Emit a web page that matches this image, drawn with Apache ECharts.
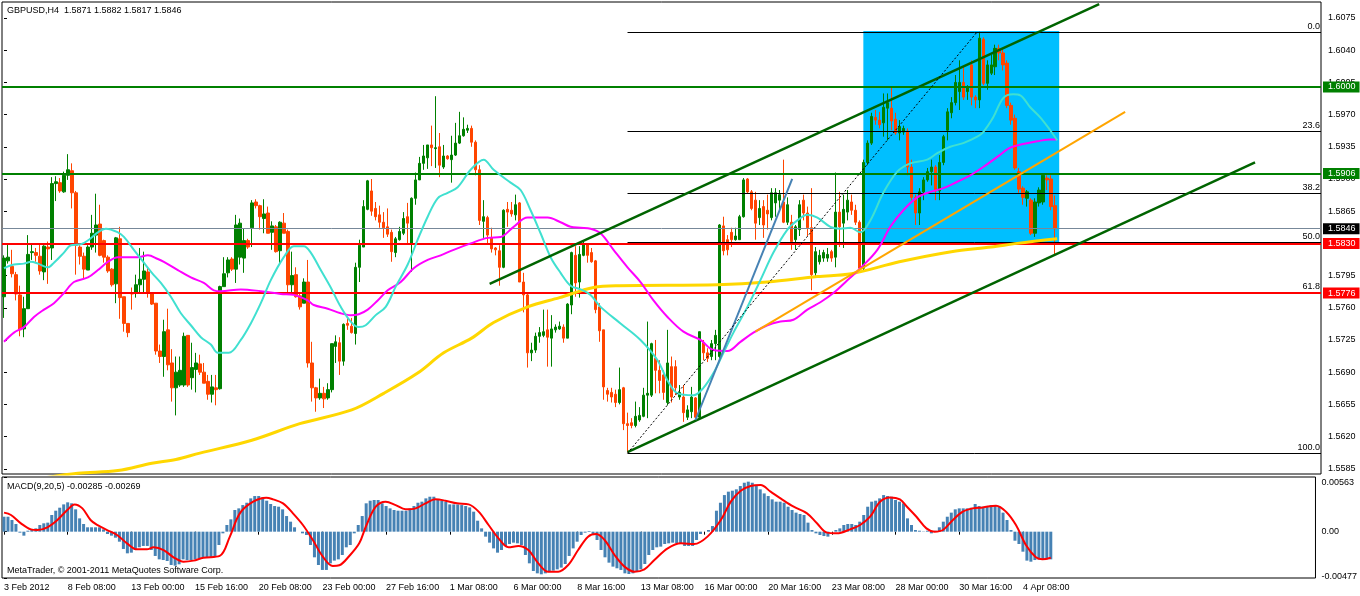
<!DOCTYPE html>
<html>
<head>
<meta charset="utf-8">
<script src="https://cdn.jsdelivr.net/npm/echarts/dist/echarts.min.js"></script>
<style>
html,body{margin:0;padding:0;background:#fff;}
#chart{width:1360px;height:596px;}
</style>
</head>
<body>
<div id="chart"></div>
<script>
// ---------------- DATA ----------------
const titleText = 'GBPUSD,H4  1.5871 1.5882 1.5817 1.5846';
const macdTitle = 'MACD(9,20,5) -0.00285 -0.00269';
const copyright = 'MetaTrader, \u00A9 2001-2011 MetaQuotes Software Corp.';

const slotCount = 330; // bars + right shift space
const dateLabels = ['3 Feb 2012','8 Feb 08:00','13 Feb 00:00','15 Feb 16:00','20 Feb 08:00','23 Feb 00:00','27 Feb 16:00','1 Mar 08:00','6 Mar 00:00','8 Mar 16:00','13 Mar 08:00','16 Mar 00:00','20 Mar 16:00','23 Mar 08:00','28 Mar 00:00','30 Mar 16:00','4 Apr 08:00'];
const dateLabelStep = 16;

const priceTicks = [1.5585,1.5620,1.5655,1.5690,1.5725,1.5760,1.5795,1.5830,1.5865,1.5900,1.5935,1.5970,1.6005,1.6040,1.6075];
const priceMin = 1.55793, priceMax = 1.60924;
const macdTicks = [0.00563, 0, -0.00477];
const macdMin = -0.00477, macdMax = 0.00563;

// [open, close, low, high] per H4 bar
const ohlc = [
[1.5772,1.5814,1.5749,1.5817],[1.5811,1.5815,1.5808,1.5829],[1.5805,1.5797,1.5793,1.5823],[1.5796,1.5775,1.5768,1.5799],
[1.5774,1.5736,1.5729,1.5784],[1.5737,1.5759,1.5728,1.5772],[1.5759,1.5818,1.5759,1.5839],[1.5820,1.5821,1.5812,1.5830],
[1.5820,1.5817,1.5810,1.5825],[1.5816,1.5800,1.5796,1.5829],[1.5799,1.5827,1.5790,1.5828],[1.5826,1.5824,1.5786,1.5832],
[1.5825,1.5895,1.5812,1.5902],[1.5895,1.5897,1.5876,1.5903],[1.5896,1.5887,1.5885,1.5901],[1.5886,1.5904,1.5885,1.5908],
[1.5904,1.5910,1.5899,1.5927],[1.5909,1.5885,1.5868,1.5917],[1.5885,1.5828,1.5796,1.5887],[1.5826,1.5816,1.5807,1.5828],
[1.5816,1.5802,1.5791,1.5820],[1.5801,1.5826,1.5801,1.5828],[1.5826,1.5841,1.5823,1.5861],[1.5839,1.5850,1.5820,1.5884],
[1.5851,1.5817,1.5816,1.5872],[1.5833,1.5815,1.5809,1.5834],[1.5815,1.5800,1.5798,1.5817],[1.5802,1.5785,1.5783,1.5803],
[1.5786,1.5836,1.5765,1.5837],[1.5835,1.5771,1.5748,1.5848],[1.5772,1.5743,1.5734,1.5772],[1.5743,1.5733,1.5728,1.5743],
[1.5776,1.5775,1.5758,1.5782],[1.5776,1.5785,1.5771,1.5796],[1.5785,1.5791,1.5777,1.5825],[1.5791,1.5800,1.5776,1.5821],
[1.5799,1.5776,1.5771,1.5804],[1.5776,1.5764,1.5763,1.5776],[1.5765,1.5713,1.5709,1.5765],[1.5713,1.5707,1.5700,1.5720],
[1.5707,1.5734,1.5685,1.5747],[1.5736,1.5698,1.5692,1.5759],[1.5700,1.5673,1.5658,1.5715],[1.5673,1.5690,1.5643,1.5707],
[1.5676,1.5692,1.5674,1.5707],[1.5676,1.5729,1.5674,1.5733],[1.5730,1.5676,1.5674,1.5730],[1.5684,1.5695,1.5671,1.5722],
[1.5693,1.5700,1.5668,1.5711],[1.5699,1.5690,1.5687,1.5709],[1.5690,1.5678,1.5678,1.5700],[1.5680,1.5666,1.5660,1.5687],
[1.5666,1.5674,1.5657,1.5687],[1.5673,1.5671,1.5654,1.5687],[1.5672,1.5783,1.5671,1.5784],[1.5783,1.5797,1.5783,1.5815],
[1.5798,1.5812,1.5793,1.5815],[1.5813,1.5802,1.5800,1.5815],[1.5802,1.5850,1.5787,1.5861],[1.5815,1.5852,1.5807,1.5857],
[1.5814,1.5833,1.5798,1.5846],[1.5833,1.5826,1.5824,1.5835],[1.5847,1.5874,1.5826,1.5877],[1.5875,1.5871,1.5868,1.5878],
[1.5871,1.5859,1.5845,1.5872],[1.5857,1.5862,1.5841,1.5878],[1.5863,1.5841,1.5841,1.5870],[1.5842,1.5849,1.5823,1.5854],
[1.5848,1.5821,1.5820,1.5850],[1.5822,1.5853,1.5807,1.5854],[1.5852,1.5841,1.5841,1.5863],[1.5843,1.5785,1.5776,1.5845],
[1.5785,1.5795,1.5775,1.5821],[1.5796,1.5772,1.5771,1.5804],[1.5773,1.5761,1.5758,1.5776],[1.5765,1.5788,1.5765,1.5792],
[1.5788,1.5700,1.5695,1.5812],[1.5700,1.5673,1.5658,1.5723],[1.5673,1.5662,1.5647,1.5674],[1.5662,1.5667,1.5660,1.5683],
[1.5667,1.5661,1.5651,1.5674],[1.5662,1.5671,1.5660,1.5678],[1.5671,1.5721,1.5668,1.5721],[1.5718,1.5723,1.5700,1.5730],
[1.5722,1.5702,1.5687,1.5728],[1.5702,1.5742,1.5697,1.5743],[1.5743,1.5741,1.5736,1.5750],[1.5740,1.5733,1.5732,1.5749],
[1.5732,1.5804,1.5720,1.5809],[1.5804,1.5828,1.5788,1.5834],[1.5826,1.5870,1.5826,1.5877],[1.5867,1.5898,1.5866,1.5899],
[1.5887,1.5865,1.5860,1.5900],[1.5868,1.5859,1.5855,1.5875],[1.5861,1.5853,1.5847,1.5871],[1.5853,1.5847,1.5836,1.5864],
[1.5848,1.5840,1.5837,1.5868],[1.5842,1.5821,1.5810,1.5845],[1.5820,1.5835,1.5815,1.5837],[1.5834,1.5843,1.5833,1.5848],
[1.5841,1.5857,1.5839,1.5864],[1.5859,1.5852,1.5830,1.5874],[1.5830,1.5879,1.5799,1.5880],[1.5879,1.5899,1.5872,1.5907],
[1.5899,1.5917,1.5899,1.5924],[1.5917,1.5925,1.5910,1.5937],[1.5923,1.5937,1.5911,1.5937],[1.5937,1.5934,1.5914,1.5958],
[1.5933,1.5934,1.5912,1.5990],[1.5935,1.5915,1.5902,1.5950],[1.5913,1.5925,1.5911,1.5937],[1.5925,1.5922,1.5921,1.5926],
[1.5921,1.5926,1.5896,1.5947],[1.5926,1.5939,1.5925,1.5961],[1.5939,1.5947,1.5938,1.5973],[1.5947,1.5954,1.5946,1.5967],
[1.5953,1.5955,1.5950,1.5959],[1.5955,1.5940,1.5935,1.5958],[1.5940,1.5910,1.5904,1.5942],[1.5910,1.5855,1.5850,1.5915],
[1.5854,1.5859,1.5836,1.5877],[1.5858,1.5839,1.5830,1.5860],[1.5836,1.5824,1.5820,1.5847],[1.5825,1.5823,1.5817,1.5826],
[1.5822,1.5804,1.5784,1.5828],[1.5804,1.5866,1.5803,1.5867],[1.5867,1.5864,1.5848,1.5875],[1.5866,1.5862,1.5859,1.5875],
[1.5861,1.5872,1.5855,1.5883],[1.5874,1.5788,1.5788,1.5875],[1.5788,1.5774,1.5755,1.5798],[1.5774,1.5711,1.5695,1.5776],
[1.5711,1.5714,1.5702,1.5722],[1.5714,1.5729,1.5711,1.5733],[1.5729,1.5733,1.5722,1.5739],[1.5730,1.5734,1.5728,1.5758],
[1.5736,1.5728,1.5696,1.5758],[1.5727,1.5737,1.5696,1.5752],[1.5736,1.5739,1.5733,1.5742],[1.5737,1.5740,1.5736,1.5745],
[1.5739,1.5727,1.5722,1.5742],[1.5727,1.5764,1.5727,1.5765],[1.5763,1.5820,1.5753,1.5821],[1.5817,1.5787,1.5772,1.5827],
[1.5788,1.5818,1.5771,1.5827],[1.5817,1.5830,1.5816,1.5832],[1.5829,1.5817,1.5809,1.5830],[1.5820,1.5810,1.5809,1.5825],
[1.5811,1.5758,1.5754,1.5812],[1.5761,1.5735,1.5723,1.5765],[1.5736,1.5674,1.5660,1.5736],[1.5670,1.5666,1.5658,1.5673],
[1.5668,1.5663,1.5657,1.5673],[1.5666,1.5657,1.5652,1.5671],[1.5657,1.5671,1.5655,1.5695],[1.5673,1.5634,1.5627,1.5674],
[1.5634,1.5632,1.5603,1.5646],[1.5635,1.5632,1.5629,1.5640],[1.5632,1.5642,1.5630,1.5658],[1.5638,1.5643,1.5636,1.5652],
[1.5642,1.5665,1.5641,1.5673],[1.5665,1.5667,1.5640,1.5745],[1.5665,1.5721,1.5663,1.5722],[1.5705,1.5692,1.5667,1.5725],
[1.5692,1.5681,1.5667,1.5703],[1.5687,1.5668,1.5660,1.5692],[1.5657,1.5700,1.5654,1.5736],[1.5696,1.5663,1.5657,1.5707],
[1.5696,1.5673,1.5665,1.5703],[1.5663,1.5668,1.5660,1.5676],[1.5663,1.5646,1.5636,1.5676],[1.5641,1.5649,1.5638,1.5654],
[1.5647,1.5663,1.5640,1.5674],[1.5662,1.5641,1.5640,1.5663],[1.5641,1.5734,1.5640,1.5734],[1.5722,1.5711,1.5703,1.5725],
[1.5711,1.5705,1.5701,1.5716],[1.5707,1.5721,1.5703,1.5725],[1.5721,1.5730,1.5703,1.5736],[1.5707,1.5850,1.5705,1.5851],
[1.5849,1.5822,1.5817,1.5859],[1.5834,1.5823,1.5817,1.5839],[1.5842,1.5834,1.5826,1.5847],[1.5834,1.5838,1.5833,1.5847],
[1.5834,1.5859,1.5834,1.5861],[1.5859,1.5899,1.5858,1.5901],[1.5900,1.5886,1.5884,1.5901],[1.5886,1.5868,1.5866,1.5888],
[1.5877,1.5852,1.5834,1.5886],[1.5858,1.5868,1.5850,1.5877],[1.5870,1.5850,1.5836,1.5877],[1.5866,1.5862,1.5845,1.5883],
[1.5858,1.5885,1.5855,1.5890],[1.5874,1.5885,1.5859,1.5890],[1.5877,1.5883,1.5866,1.5888],[1.5875,1.5853,1.5852,1.5921],
[1.5853,1.5872,1.5850,1.5880],[1.5853,1.5832,1.5823,1.5861],[1.5834,1.5848,1.5823,1.5850],[1.5845,1.5872,1.5838,1.5877],
[1.5877,1.5863,1.5855,1.5883],[1.5863,1.5847,1.5838,1.5870],[1.5847,1.5796,1.5779,1.5890],[1.5798,1.5821,1.5793,1.5826],
[1.5810,1.5817,1.5807,1.5823],[1.5814,1.5820,1.5810,1.5823],[1.5814,1.5818,1.5810,1.5825],[1.5821,1.5814,1.5810,1.5823],
[1.5815,1.5864,1.5804,1.5907],[1.5864,1.5848,1.5826,1.5886],[1.5852,1.5867,1.5825,1.5883],[1.5864,1.5877,1.5855,1.5888],
[1.5875,1.5866,1.5861,1.5883],[1.5866,1.5853,1.5850,1.5872],[1.5853,1.5803,1.5799,1.5855],[1.5803,1.5918,1.5801,1.5921],
[1.5918,1.5939,1.5915,1.5942],[1.5939,1.5968,1.5937,1.5972],[1.5967,1.5964,1.5959,1.5975],[1.5964,1.5959,1.5955,1.5973],
[1.5961,1.5978,1.5946,1.5993],[1.5977,1.5983,1.5942,1.5993],[1.5977,1.5963,1.5953,1.6000],[1.5965,1.5950,1.5948,1.5972],
[1.5950,1.5957,1.5942,1.5964],[1.5951,1.5955,1.5948,1.5958],[1.5952,1.5913,1.5904,1.5955],[1.5913,1.5880,1.5877,1.5921],
[1.5880,1.5863,1.5850,1.5883],[1.5863,1.5886,1.5850,1.5890],[1.5886,1.5899,1.5877,1.5902],[1.5899,1.5908,1.5897,1.5912],
[1.5908,1.5913,1.5893,1.5921],[1.5913,1.5887,1.5877,1.5915],[1.5887,1.5918,1.5877,1.5926],[1.5918,1.5946,1.5915,1.5948],
[1.5953,1.5973,1.5942,1.5977],[1.5972,1.5983,1.5966,1.5989],[1.5983,1.6005,1.5980,1.6013],[1.5995,1.6005,1.5975,1.6029],
[1.6005,1.5989,1.5986,1.6022],[1.5995,1.5999,1.5986,1.6002],[1.6024,1.5989,1.5980,1.6029],[1.5989,1.5986,1.5977,1.5991],
[1.5986,1.6053,1.5977,1.6060],[1.6052,1.6004,1.6002,1.6054],[1.6004,1.6024,1.5997,1.6029],[1.6015,1.6024,1.6013,1.6035],
[1.6022,1.6042,1.6013,1.6046],[1.6042,1.6037,1.6029,1.6046],[1.6037,1.6024,1.6018,1.6042],[1.6026,1.5980,1.5977,1.6029],
[1.5980,1.5964,1.5959,1.5983],[1.5966,1.5912,1.5910,1.5970],[1.5908,1.5889,1.5885,1.5912],[1.5890,1.5880,1.5872,1.5892],
[1.5879,1.5886,1.5870,1.5888],[1.5877,1.5841,1.5839,1.5879],[1.5841,1.5875,1.5837,1.5879],[1.5874,1.5888,1.5870,1.5891],
[1.5875,1.5904,1.5872,1.5904],[1.5901,1.5899,1.5888,1.5904],[1.5900,1.5870,1.5866,1.5904],[1.5871,1.5846,1.5817,1.5882]
];

// moving averages, read as [bar index, price]
const maCyan = [[0,1.5803],[2.5,1.5807],[5,1.5808],[6.75,1.5810],[8.5,1.5808],[11,1.5804],[12.5,1.5809],[15,1.5820],[16.75,1.5828],[19.25,1.5829],[21.25,1.5834],[23.5,1.5842],[25.5,1.5846],[28.5,1.5842],[30,1.5837],[32.5,1.5823],[35,1.5809],[37,1.5798],[39.25,1.5787],[41.75,1.5772],[44.25,1.5754],[46.75,1.5741],[49.25,1.5728],[51.75,1.5720],[53.5,1.5711],[56.25,1.5711],[59.25,1.5725],[61.75,1.5743],[64.25,1.5765],[66.75,1.5790],[70,1.5815],[72.5,1.5827],[75,1.5827],[76.75,1.5820],[79.25,1.5801],[81.75,1.5782],[84.25,1.5761],[86.75,1.5745],[88.75,1.5739],[90.5,1.5741],[93,1.5752],[95.5,1.5761],[98,1.5783],[101,1.5807],[103.5,1.5834],[106,1.5859],[108.5,1.5879],[111,1.5885],[113.5,1.5891],[116.75,1.5910],[120,1.5921],[122.5,1.5910],[126.75,1.5896],[129.25,1.5888],[131.75,1.5866],[134.25,1.5841],[136.75,1.5815],[139.25,1.5798],[141.75,1.5784],[144.25,1.5780],[146.75,1.5774],[149.25,1.5761],[154.25,1.5743],[159.25,1.5725],[163.5,1.5703],[166,1.5681],[168.5,1.5667],[172.5,1.5665],[175,1.5673],[177.5,1.5689],[180,1.5711],[182.5,1.5733],[186,1.5761],[189.25,1.5790],[192.5,1.5820],[196,1.5845],[198.5,1.5855],[201,1.5861],[203.5,1.5858],[206.75,1.5848],[209.25,1.5846],[211.75,1.5847],[214.25,1.5842],[216.75,1.5855],[220,1.5885],[223.5,1.5908],[226.75,1.5917],[231,1.5921],[233.5,1.5928],[236.75,1.5935],[240,1.5939],[243.5,1.5946],[245,1.5951],[247.5,1.5967],[250,1.5988],[252.5,1.5992],[254.25,1.5991],[256.75,1.5978],[259.25,1.5967],[261.75,1.5953],[263.5,1.5942]];
const maMagenta = [[0,1.5723],[2.5,1.5733],[5,1.5739],[7.5,1.5750],[10,1.5758],[12.5,1.5765],[15,1.5776],[17.5,1.5788],[21,1.5793],[23.5,1.5801],[26,1.5810],[28.5,1.5815],[31,1.5815],[33.5,1.5815],[36,1.5817],[38.5,1.5813],[40,1.5810],[43.5,1.5801],[46.75,1.5793],[50,1.5787],[52.5,1.5779],[54.25,1.5778],[59.25,1.5780],[64.25,1.5778],[69.25,1.5775],[72.5,1.5774],[76,1.5768],[77.5,1.5763],[81,1.5759],[84.25,1.5754],[86.75,1.5752],[88.75,1.5753],[91,1.5758],[93.5,1.5768],[96,1.5779],[99.25,1.5788],[102.5,1.5803],[106,1.5812],[109.25,1.5817],[112.5,1.5823],[116.75,1.5830],[121,1.5836],[124.25,1.5837],[127.5,1.5848],[131,1.5858],[136,1.5858],[139.25,1.5853],[141.75,1.5848],[144.25,1.5847],[146.75,1.5846],[149.25,1.5841],[152.5,1.5823],[156,1.5804],[159.25,1.5788],[162.5,1.5768],[166,1.5750],[170,1.5734],[174.25,1.5725],[177.5,1.5714],[181,1.5713],[184.25,1.5723],[187.5,1.5733],[191,1.5741],[194.25,1.5745],[197.5,1.5747],[201,1.5758],[204.25,1.5766],[207.5,1.5776],[211,1.5790],[214.25,1.5803],[218.5,1.5823],[221.75,1.5848],[225,1.5866],[228.5,1.5880],[231.75,1.5886],[235,1.5890],[238.5,1.5897],[241.75,1.5904],[245,1.5913],[248.5,1.5924],[251.75,1.5934],[255,1.5938],[258.5,1.5941],[261.75,1.5943],[263.5,1.5943]];
const maGold = [[10,1.5575],[18.5,1.5580],[28.5,1.5583],[37,1.5591],[43,1.5595],[49,1.5602],[62,1.5616],[74,1.5634],[87,1.5649],[95,1.5667],[103.5,1.5689],[110,1.5711],[117,1.5727],[122.5,1.5744],[131,1.5761],[139,1.5771],[147.5,1.5782],[154,1.5784],[178.5,1.5785],[191,1.5788],[203.5,1.5794],[212,1.5797],[224,1.5810],[237,1.5821],[247,1.5826],[253.5,1.5830],[263.5,1.5835]];

// drawn objects: [bar index, price] end points
const channelUpper = [[121.5,1.5786],[274,1.6090]];
const channelLower = [[156,1.5603],[313,1.5918]];
const orangeTrend = [[188,1.5734],[280.5,1.5973]];
const blueTrend = [[173,1.5638],[197.2,1.5900]];
const fibTrend = [[156,1.5602],[243.5,1.6060]];
const rectCorners = [[215,1.6061],[264,1.5831]];

const greenLevels = [1.6000, 1.5906];
const redLevels = [1.5830, 1.5776];
const bidLevel = 1.5846;

const fibStart = 156;
const fibLevels = [1.6060, 1.5952, 1.5885, 1.5831, 1.5777, 1.5602];
const fibNames = ['0.0','23.6','38.2','50.0','61.8','100.0'];

// MACD histogram per bar and signal line read as [bar index, value]
const macdHist = [
0.00154,0.00154,0.00120,0.00079,-0.00010,-0.00041,0.00010,0.00024,0.00034,0.00069,0.00086,0.00093,0.00172,0.00216,0.00247,0.00281,
0.00302,0.00292,0.00230,0.00137,0.00079,0.00045,0.00045,0.00045,0.00045,0.00024,-0.00024,-0.00041,-0.00062,-0.00103,-0.00178,-0.00223,
-0.00216,-0.00189,-0.00161,-0.00147,-0.00147,-0.00189,-0.00250,-0.00285,-0.00292,-0.00302,-0.00343,-0.00350,-0.00336,-0.00285,-0.00292,-0.00292,
-0.00285,-0.00274,-0.00264,-0.00264,-0.00264,-0.00257,-0.00137,-0.00017,0.00069,0.00127,0.00223,0.00240,0.00274,0.00298,0.00343,0.00367,
0.00367,0.00353,0.00319,0.00285,0.00264,0.00257,0.00230,0.00161,0.00103,0.00045,0.00000,-0.00017,-0.00034,-0.00137,-0.00264,-0.00343,
-0.00394,-0.00394,-0.00326,-0.00298,-0.00285,-0.00240,-0.00161,-0.00137,-0.00017,0.00069,0.00161,0.00292,0.00319,0.00326,0.00326,0.00292,
0.00264,0.00240,0.00223,0.00216,0.00216,0.00216,0.00240,0.00264,0.00298,0.00309,0.00343,0.00360,0.00360,0.00333,0.00319,0.00309,
0.00281,0.00281,0.00281,0.00274,0.00264,0.00250,0.00206,0.00113,0.00034,-0.00051,-0.00113,-0.00172,-0.00216,-0.00189,-0.00147,-0.00127,
-0.00113,-0.00120,-0.00137,-0.00240,-0.00326,-0.00405,-0.00429,-0.00439,-0.00429,-0.00412,-0.00401,-0.00388,-0.00370,-0.00333,-0.00250,-0.00172,
-0.00103,-0.00034,-0.00010,0.00007,-0.00024,-0.00086,-0.00189,-0.00264,-0.00319,-0.00360,-0.00377,-0.00394,-0.00429,-0.00436,-0.00429,-0.00412,
-0.00388,-0.00333,-0.00240,-0.00189,-0.00161,-0.00154,-0.00127,-0.00120,-0.00113,-0.00120,-0.00127,-0.00147,-0.00147,-0.00147,-0.00086,-0.00024,
0.00000,0.00017,0.00058,0.00216,0.00298,0.00377,0.00412,0.00422,0.00436,0.00470,0.00504,0.00515,0.00504,0.00480,0.00436,0.00394,
0.00367,0.00333,0.00309,0.00309,0.00298,0.00257,0.00223,0.00196,0.00182,0.00172,0.00093,0.00017,-0.00017,-0.00034,-0.00045,-0.00051,
0.00000,0.00017,0.00034,0.00069,0.00079,0.00079,0.00069,0.00103,0.00172,0.00257,0.00309,0.00319,0.00343,0.00377,0.00367,0.00360,
0.00326,0.00309,0.00292,0.00137,0.00069,0.00017,0.00010,-0.00003,0.00010,-0.00017,0.00010,0.00045,0.00103,0.00154,0.00196,0.00230,
0.00240,0.00240,0.00240,0.00247,0.00285,0.00264,0.00257,0.00264,0.00274,0.00274,0.00257,0.00196,0.00120,0.00017,-0.00093,-0.00127,
-0.00206,-0.00298,-0.00309,-0.00292,-0.00285,-0.00285,-0.00285,-0.00285
];
const macdSignal = [[0,0.00196],[1.75,0.00172],[4.25,0.00086],[6.75,0.00024],[8.4,0.00017],[10.9,0.00045],[13.4,0.00120],[15.9,0.00223],[17.75,0.00281],[19.7,0.00240],[21.75,0.00120],[23.4,0.00069],[25.9,0.00017],[28.4,-0.00034],[30.9,-0.00120],[33.4,-0.00182],[35.9,-0.00182],[37.6,-0.00161],[40.1,-0.00189],[42.6,-0.00264],[45.1,-0.00309],[47.6,-0.00298],[50.1,-0.00268],[54.2,-0.00250],[56.75,-0.00051],[59.25,0.00189],[62.6,0.00309],[65.9,0.00350],[67.6,0.00333],[70.1,0.00292],[72.6,0.00189],[75.1,0.00069],[77.6,-0.00086],[80.1,-0.00257],[82.6,-0.00353],[84.25,-0.00346],[86.75,-0.00250],[89.25,-0.00120],[90.9,0.00051],[93.4,0.00257],[95.9,0.00309],[98.4,0.00274],[100.9,0.00230],[103.4,0.00240],[105.9,0.00292],[108.4,0.00333],[110.9,0.00319],[113.8,0.00292],[116.75,0.00281],[119.25,0.00206],[121.75,0.00069],[124.25,-0.00069],[126.75,-0.00161],[129.25,-0.00147],[131.75,-0.00189],[134.25,-0.00326],[136.75,-0.00412],[139.25,-0.00412],[141.75,-0.00343],[144.25,-0.00189],[146.75,-0.00051],[148.8,-0.00024],[150.9,-0.00086],[153.4,-0.00240],[155.9,-0.00360],[158.4,-0.00412],[160.9,-0.00388],[163.4,-0.00292],[166.75,-0.00172],[170.1,-0.00120],[173.4,-0.00127],[176.75,-0.00051],[180.1,0.00120],[182.6,0.00309],[185.1,0.00422],[187.6,0.00470],[190.1,0.00480],[192.6,0.00412],[195.1,0.00343],[198.4,0.00257],[201.75,0.00189],[204.25,0.00086],[206.75,-0.00010],[209.25,-0.00017],[212.6,0.00024],[215.1,0.00069],[217.6,0.00154],[220.1,0.00309],[222.6,0.00353],[225.1,0.00333],[226.75,0.00262],[229.25,0.00154],[231.75,0.00034],[233.8,0.00000],[235.9,0.00017],[238.4,0.00120],[240.9,0.00206],[243.4,0.00240],[245.9,0.00250],[249.25,0.00268],[251.75,0.00206],[254.25,0.00069],[256.75,-0.00137],[259.25,-0.00264],[260.9,-0.00285],[263,-0.00269]];

// ---------------- CHART ----------------
const FONT = 'Liberation Sans, Arial, sans-serif';
const cats = Array.from({length: slotCount}, (_, i) => String(i));
const xMin = -0.5, xMax = slotCount - 0.5;
const GRID_L = 2, GRID_W = 1319;

function seg(pts, color, width, type, z) {
  return { type: 'line', xAxisIndex: 2, yAxisIndex: 0, data: pts, showSymbol: false, symbol: 'none',
    lineStyle: { color: color, width: width, type: type || 'solid' }, silent: true, z: z || 6, clip: true };
}
function ma(pts, color, width) {
  return { type: 'line', xAxisIndex: 2, yAxisIndex: 0, data: pts, showSymbol: false, symbol: 'none', smooth: 0.35,
    lineStyle: { color: color, width: width }, silent: true, z: 5, clip: true };
}
function tag(v, lineColor, lineWidth, bg) {
  return [
    { coord: [xMin, v], lineStyle: { color: lineColor, width: lineWidth, type: 'solid' },
      label: { show: true, position: 'end', distance: 2, formatter: v.toFixed(4), color: '#fff', backgroundColor: bg,
        padding: [1, 4, 0, 5], fontFamily: FONT, fontSize: 9, lineHeight: 10 } },
    { coord: [xMax, v] }
  ];
}

const chart = echarts.init(document.getElementById('chart'), null, { renderer: 'canvas' });
chart.setOption({
  animation: false,
  backgroundColor: '#fff',
  textStyle: { fontFamily: FONT },
  grid: [
    { left: GRID_L, top: 2, width: GRID_W, height: 472, show: true, borderColor: '#000', borderWidth: 1, backgroundColor: '#fff' },
    { left: GRID_L, top: 477, width: GRID_W, height: 101, show: true, borderColor: '#000', borderWidth: 1, backgroundColor: '#fff' }
  ],
  xAxis: [
    { type: 'category', gridIndex: 0, data: cats, boundaryGap: true, axisLine: { show: false }, axisTick: { show: false }, axisLabel: { show: false }, splitLine: { show: false } },
    { type: 'category', gridIndex: 1, data: cats, boundaryGap: true, axisLine: { show: false },
      axisTick: { show: true, alignWithLabel: true, length: 3, lineStyle: { color: '#000' },
        interval: (i) => i % dateLabelStep === 0 && i / dateLabelStep < dateLabels.length },
      axisLabel: { show: true, align: 'left', margin: 5, color: '#000', fontFamily: FONT, fontSize: 9,
        interval: (i) => i % dateLabelStep === 0 && i / dateLabelStep < dateLabels.length,
        formatter: (v, i) => dateLabels[i / dateLabelStep] || '' },
      splitLine: { show: false } },
    { type: 'value', gridIndex: 0, min: xMin, max: xMax, show: false },
    { type: 'value', gridIndex: 1, min: xMin, max: xMax, show: false }
  ],
  yAxis: [
    { type: 'value', gridIndex: 0, position: 'right', min: priceMin, max: priceMax, scale: true,
      axisLine: { show: false }, splitLine: { show: false },
      axisTick: { show: true, length: 3, customValues: priceTicks, lineStyle: { color: '#000' } },
      axisLabel: { show: true, customValues: priceTicks, margin: 7, color: '#000', fontFamily: FONT, fontSize: 9, formatter: (v) => v.toFixed(4) } },
    { type: 'value', gridIndex: 1, position: 'right', min: macdMin, max: macdMax,
      axisLine: { show: false }, splitLine: { show: false },
      axisTick: { show: true, length: 3, customValues: macdTicks, lineStyle: { color: '#000' } },
      axisLabel: { show: true, customValues: macdTicks, margin: 6, color: '#000', fontFamily: FONT, fontSize: 9,
        formatter: (v) => v > 0 ? '{t|' + v.toFixed(5) + '}' : (v < 0 ? '{b|' + v.toFixed(5) + '}' : '0.00'),
        rich: { t: { padding: [12, 0, 0, 0], fontSize: 9, fontFamily: FONT }, b: { padding: [0, 0, 2, 0], fontSize: 9, fontFamily: FONT } } } }
  ],
  graphic: [
    { type: 'text', left: 7, top: 6, z: 100, style: { text: titleText, fill: '#000', font: '9px ' + FONT } },
    { type: 'text', left: 7, top: 482, z: 100, style: { text: macdTitle, fill: '#000', font: '9px ' + FONT } },
    { type: 'text', left: 7, top: 566, z: 100, style: { text: copyright, fill: '#000', font: '9px ' + FONT } }
  ],
  series: [
    { type: 'line', xAxisIndex: 2, yAxisIndex: 0, data: [], silent: true, z: 1,
      markArea: { silent: true, itemStyle: { color: '#00BFFF', opacity: 1 },
        data: [[{ coord: rectCorners[0] }, { coord: rectCorners[1] }]] } },
    { type: 'candlestick', xAxisIndex: 0, yAxisIndex: 0, data: ohlc, barWidth: 3, silent: true, z: 3,
      itemStyle: { color: '#008000', color0: '#FF4500', borderColor: '#008000', borderColor0: '#FF4500', borderWidth: 1 } },
    ma(maGold, '#FFD700', 3),
    ma(maMagenta, '#FF00FF', 2),
    ma(maCyan, '#40E0D0', 2),
    { type: 'line', xAxisIndex: 2, yAxisIndex: 0, data: [], silent: true, z: 7,
      markLine: { silent: true, symbol: ['none', 'none'], animation: false,
        data: fibLevels.map((lv, k) => [
          { coord: [fibStart, lv], lineStyle: { color: '#000', width: 1, type: 'solid' },
            label: { show: true, position: 'insideEndTop', distance: 1, formatter: fibNames[k], color: '#000', fontFamily: FONT, fontSize: 9 } },
          { coord: [xMax, lv] }]) } },
    seg(channelUpper, '#006400', 2.5),
    seg(channelLower, '#006400', 2.5),
    seg(orangeTrend, '#FFA500', 2),
    seg(blueTrend, '#4682B4', 2),
    seg(fibTrend, '#000', 1, [2, 2]),
    { type: 'line', xAxisIndex: 2, yAxisIndex: 0, data: [], silent: true, z: 8,
      markLine: { silent: true, symbol: ['none', 'none'], animation: false,
        data: [tag(bidLevel, '#778899', 1, '#000')]
          .concat(greenLevels.map(v => tag(v, '#008000', 2, '#008000')))
          .concat(redLevels.map(v => tag(v, '#FF0000', 2, '#FF0000'))) } },
    { type: 'bar', xAxisIndex: 1, yAxisIndex: 1, data: macdHist, barWidth: 3, silent: true,
      itemStyle: { color: '#4682B4' } },
    { type: 'line', xAxisIndex: 3, yAxisIndex: 1, data: macdSignal, showSymbol: false, symbol: 'none', smooth: 0.35, silent: true, z: 5,
      lineStyle: { color: '#FF0000', width: 2 } }
  ]
});
</script>
</body>
</html>
